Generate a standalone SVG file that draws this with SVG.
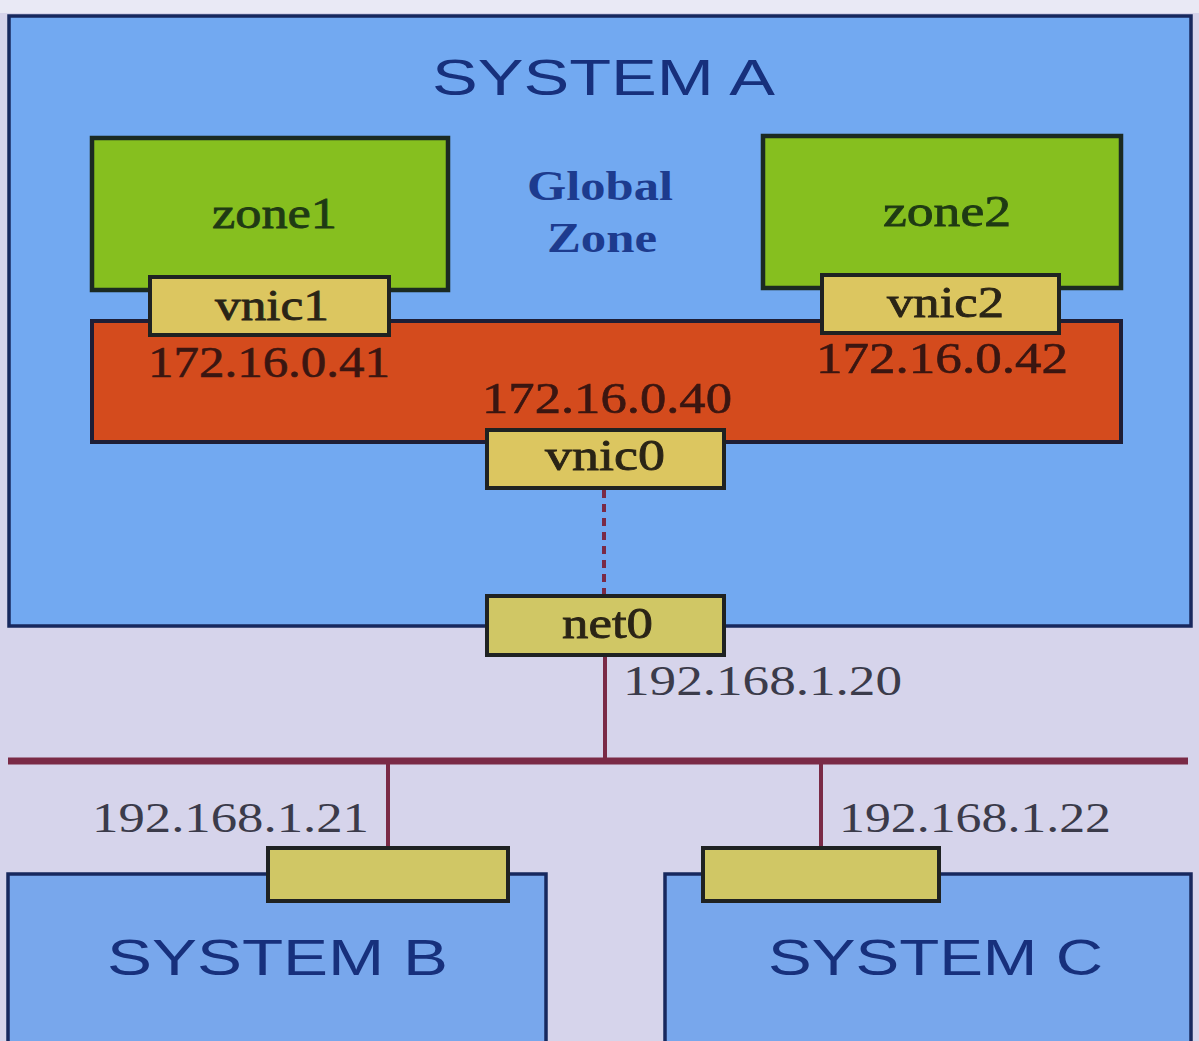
<svg xmlns="http://www.w3.org/2000/svg" width="1199" height="1041" viewBox="0 0 1199 1041">
<style>
.sys{fill:#72a9f1;stroke:#17285e;stroke-width:3.5}
.sysbc{fill:#78a7ec;stroke:#17285e;stroke-width:3.5}
.zone{fill:#86bf1f;stroke:#1b2a22;stroke-width:4.5}
.vnic{fill:#dcc660;stroke:#1f2222;stroke-width:4}
.nic{fill:#d0c765;stroke:#1f2222;stroke-width:4}
.band{fill:#d44b1d;stroke:#1e1e36;stroke-width:4}
.serif{font-family:"Liberation Serif","Times New Roman",serif}
.sans{font-family:"Liberation Sans",Arial,sans-serif}
.title{font-size:50px;fill:#17307c}
.ztxt{font-size:44px;fill:#1f3a14;stroke:#1f3a14;stroke-width:0.8}
.vtxt{font-size:44px;fill:#2a2416;stroke:#2a2416;stroke-width:0.8}
.iptxt{font-size:44px;fill:#3a1611;stroke:#3a1611;stroke-width:0.6}
.gtxt{font-size:42px;fill:#1d3b8e;font-weight:bold}
.lan{font-size:42px;fill:#3b3b4a}
.bus{stroke:#7a2a46;fill:none}
</style>
<rect x="0" y="0" width="1199" height="1041" fill="#d6d4eb"/>
<rect x="0" y="0" width="1199" height="13" fill="#e9e9f5"/>

<g id="system-a">
<rect class="sys" x="9" y="16" width="1182" height="610"/>
<text class="sans title" x="432" y="95" textLength="343" lengthAdjust="spacingAndGlyphs">SYSTEM A</text>
</g>

<g id="global-zone">
<text class="serif gtxt" x="527" y="200" textLength="146" lengthAdjust="spacingAndGlyphs">Global</text>
<text class="serif gtxt" x="547" y="252" textLength="110" lengthAdjust="spacingAndGlyphs">Zone</text>
</g>

<g id="zone1">
<rect class="zone" x="92" y="138" width="356" height="152"/>
<text class="serif ztxt" x="212" y="228" textLength="125" lengthAdjust="spacingAndGlyphs">zone1</text>
</g>

<g id="zone2">
<rect class="zone" x="763" y="136" width="358" height="152"/>
<text class="serif ztxt" x="883" y="226" textLength="128" lengthAdjust="spacingAndGlyphs">zone2</text>
</g>

<g id="global-band">
<rect class="band" x="92" y="321" width="1029" height="121"/>
<text class="serif iptxt" x="148" y="377" textLength="242" lengthAdjust="spacingAndGlyphs">172.16.0.41</text>
<text class="serif iptxt" x="816" y="373" textLength="252" lengthAdjust="spacingAndGlyphs">172.16.0.42</text>
<text class="serif iptxt" x="482" y="413" textLength="250" lengthAdjust="spacingAndGlyphs">172.16.0.40</text>
</g>

<g id="vnic1">
<rect class="vnic" x="150" y="277" width="239" height="58"/>
<text class="serif vtxt" x="215" y="320" textLength="114" lengthAdjust="spacingAndGlyphs">vnic1</text>
</g>

<g id="vnic2">
<rect class="vnic" x="822" y="275" width="237" height="58"/>
<text class="serif vtxt" x="887" y="317" textLength="117" lengthAdjust="spacingAndGlyphs">vnic2</text>
</g>

<g id="vnic0">
<rect class="vnic" x="487" y="430" width="237" height="58"/>
<text class="serif vtxt" x="545" y="470" textLength="120" lengthAdjust="spacingAndGlyphs">vnic0</text>
</g>

<g id="connectors">
<line class="bus" x1="604" y1="490" x2="604" y2="594" stroke-width="4" stroke-dasharray="8,6" stroke="#a0455a"/>
<line class="bus" x1="605" y1="657" x2="605" y2="760" stroke-width="4"/>
<line class="bus" x1="8" y1="761" x2="1188" y2="761" stroke-width="7"/>
<line class="bus" x1="388" y1="761" x2="388" y2="846" stroke-width="4"/>
<line class="bus" x1="821" y1="761" x2="821" y2="846" stroke-width="4"/>
</g>

<g id="net0">
<rect class="nic" x="487" y="596" width="237" height="59"/>
<text class="serif vtxt" x="562" y="638" textLength="91" lengthAdjust="spacingAndGlyphs">net0</text>
</g>

<g id="lan-labels">
<text class="serif lan" x="623" y="695" textLength="279" lengthAdjust="spacingAndGlyphs">192.168.1.20</text>
<text class="serif lan" x="92" y="832" textLength="277" lengthAdjust="spacingAndGlyphs">192.168.1.21</text>
<text class="serif lan" x="839" y="832" textLength="272" lengthAdjust="spacingAndGlyphs">192.168.1.22</text>
</g>

<g id="system-b">
<rect class="sysbc" x="8" y="874" width="538" height="180"/>
<rect class="nic" x="268" y="848" width="240" height="53"/>
<text class="sans title" x="107" y="975" textLength="341" lengthAdjust="spacingAndGlyphs">SYSTEM B</text>
</g>

<g id="system-c">
<rect class="sysbc" x="665" y="874" width="526" height="180"/>
<rect class="nic" x="703" y="848" width="236" height="53"/>
<text class="sans title" x="768" y="975" textLength="335" lengthAdjust="spacingAndGlyphs">SYSTEM C</text>
</g>
</svg>
